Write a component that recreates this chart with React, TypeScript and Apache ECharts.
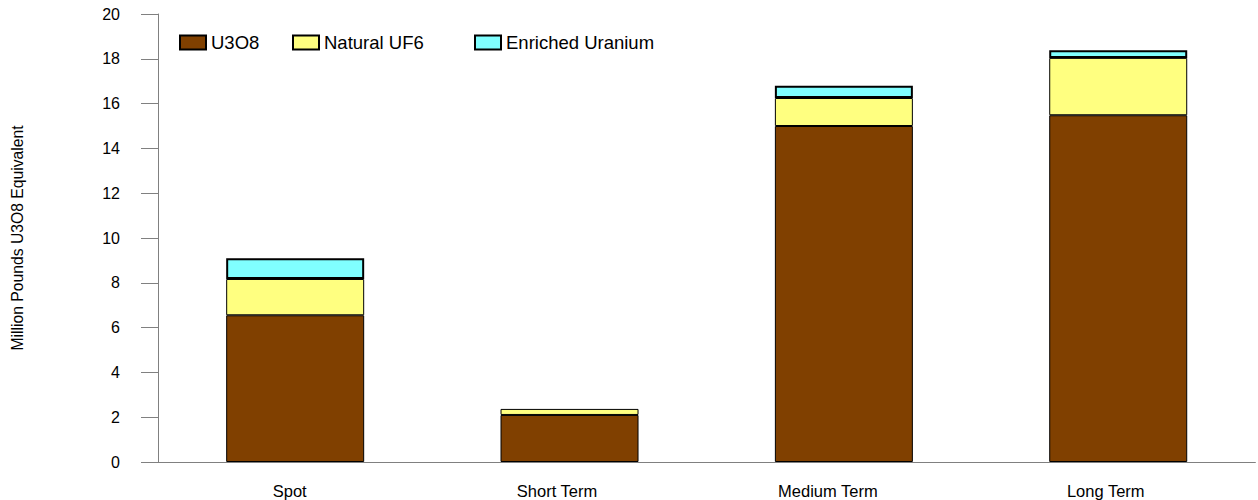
import React, { useEffect, useRef } from "react";
import * as echarts from "echarts";

const categories = ["Spot", "Short Term", "Medium Term", "Long Term"];
const u3o8 = [6.55, 2.1, 15.0, 15.48];
const naturalUF6 = [1.62, 0.27, 1.25, 2.56];
const enriched = [0.93, null, 0.55, 0.34];
const yTicks = { min: 0, max: 20, interval: 2 };

export default function App() {
  const ref = useRef<HTMLDivElement>(null);
  useEffect(() => {
    if (!ref.current) return;
    const chart = echarts.init(ref.current, null, { renderer: "svg" });
    const font = "Liberation Sans, Arial, sans-serif";
    const legendBase = {
      top: 33,
      padding: 0,
      itemWidth: 26,
      itemHeight: 14,
      itemGap: 0,
      icon: "rect",
      textStyle: { fontFamily: font, fontSize: 18.5, color: "#000" },
      selectedMode: false,
    };
    const shifts = [11, 25, 32, 25];
    const rich: Record<string, any> = {};
    categories.forEach((_, i) => {
      rich["c" + i] = {
        fontFamily: font,
        fontSize: 16.5,
        color: "#000",
        padding: [0, shifts[i], 0, 0],
      };
    });
    chart.setOption({
      animation: false,
      grid: { left: 158, right: 2.6, top: 14, bottom: 38 },
      legend: [
        { ...legendBase, left: 179, data: ["U3O8"] },
        { ...legendBase, left: 292, data: ["Natural UF6"] },
        { ...legendBase, left: 474, data: ["Enriched Uranium"] },
      ],
      xAxis: {
        type: "category",
        data: categories,
        axisLine: { lineStyle: { color: "#808080", width: 1 } },
        axisTick: { alignWithLabel: true, length: 11, lineStyle: { color: "#808080" } },
        axisLabel: {
          fontFamily: font,
          fontSize: 16.5,
          color: "#000",
          margin: 20,
          formatter: (v: string) => "{c" + categories.indexOf(v) + "|" + v + "}",
          rich,
        },
      },
      yAxis: {
        type: "value",
        min: yTicks.min,
        max: yTicks.max,
        interval: yTicks.interval,
        name: "Million Pounds U3O8 Equivalent",
        nameLocation: "middle",
        nameGap: 133,
        nameTextStyle: { fontFamily: font, fontSize: 15.7, color: "#000" },
        splitLine: { show: false },
        axisLine: { show: true, lineStyle: { color: "#808080", width: 1 } },
        axisTick: { show: true, length: 17, lineStyle: { color: "#808080" } },
        axisLabel: { fontFamily: font, fontSize: 16, color: "#000", margin: 38 },
      },
      series: [
        {
          name: "U3O8",
          type: "bar",
          stack: "total",
          barWidth: "50.3%",
          data: u3o8,
          itemStyle: { color: "#804000", borderColor: "#000", borderWidth: 1 },
        },
        {
          name: "Natural UF6",
          type: "bar",
          stack: "total",
          data: naturalUF6,
          itemStyle: { color: "#FFFF80", borderColor: "#000", borderWidth: 1 },
        },
        {
          name: "Enriched Uranium",
          type: "bar",
          stack: "total",
          data: enriched,
          itemStyle: { color: "#80FFFF", borderColor: "#000", borderWidth: 2 },
        },
      ],
    });
    return () => chart.dispose();
  }, []);
  return (
    <div
      ref={ref}
      style={{ position: "fixed", left: 0, top: 0, width: 1258, height: 500, background: "#fff" }}
    />
  );
}
